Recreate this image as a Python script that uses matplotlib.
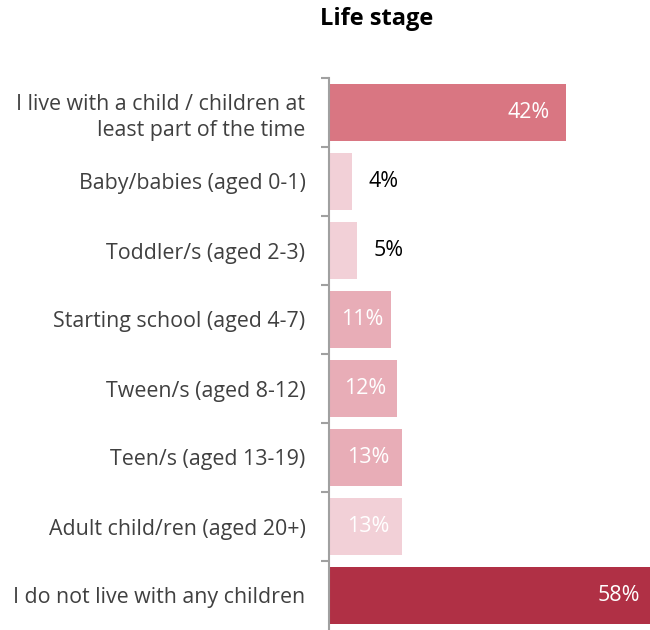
import matplotlib
matplotlib.use("Agg")
import matplotlib.pyplot as plt
import numpy as np

plt.rcParams['font.family'] = ['Open Sans', 'DejaVu Sans']

# data ----
categories = [
    "I live with a child / children at\nleast part of the time",
    "Baby/babies (aged 0-1)",
    "Toddler/s (aged 2-3)",
    "Starting school (aged 4-7)",
    "Tween/s (aged 8-12)",
    "Teen/s (aged 13-19)",
    "Adult child/ren (aged 20+)",
    "I do not live with any children",
]
values = [42, 4, 5, 11, 12, 13, 13, 58]
bar_colors = ["#D97682", "#F2D0D7", "#F2D0D7", "#E8ADB7",
              "#E8ADB7", "#E8ADB7", "#F2D0D7", "#B03045"]
# where the value label goes: 'end' inside bar, 'mid' centred, 'out' past the bar
label_pos = ["end", "out", "out", "mid", "mid", "mid", "mid", "end"]

FS = 15.4

fig = plt.figure(figsize=(6.5, 6.3), dpi=100)
ax = fig.add_axes([329 / 650, 0.0, 1 - 329 / 650, 1 - 78 / 630])

y = np.arange(len(categories))
ax.barh(y, values, height=0.84, color=bar_colors, zorder=2)
ax.set_ylim(len(categories) - 0.5, -0.5)
ax.set_xlim(0, 56.9)

for yi, v, pos in zip(y, values, label_pos):
    txt = "{}%".format(v)
    if pos == "end":
        ax.text(v - 2.8, yi, txt, ha="right", va="center", color="white",
                fontsize=FS, clip_on=False)
    elif pos == "mid":
        ax.text(v / 2 + 0.4, yi, txt, ha="center", va="center", color="white", fontsize=FS)
    else:
        ax.text(v + 5.6, yi, txt, ha="center", va="center", color="black", fontsize=FS)

# axis styling
for s in ["top", "right", "bottom"]:
    ax.spines[s].set_visible(False)
ax.spines["left"].set_color("#A0A0A0")
ax.spines["left"].set_linewidth(1.5)
ax.set_xticks([])
ax.set_yticks(y)
ax.set_yticklabels(categories, fontsize=FS, color="#404040", linespacing=1.3)
ax.tick_params(axis="y", which="major", length=0, pad=17)
ax.set_yticks(np.arange(-0.5, len(categories) - 0.5, 1), minor=True)
ax.tick_params(axis="y", which="minor", length=6, width=1.5, color="#A0A0A0")

fig.text(377 / 650, 1 - 19 / 630, "Life stage", ha="center", va="center",
         fontsize=17, fontweight="bold")

fig.savefig("out.png", dpi=100)
